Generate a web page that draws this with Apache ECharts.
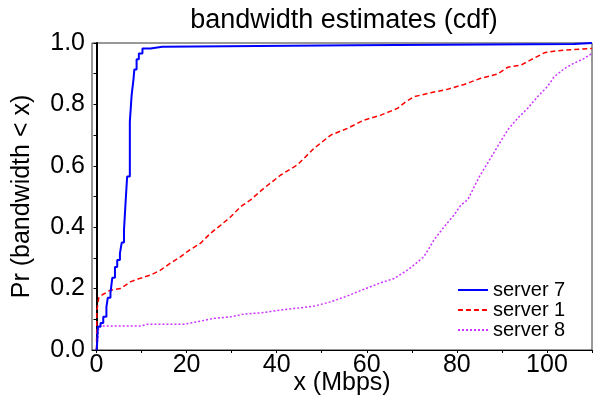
<!DOCTYPE html>
<html>
<head>
<meta charset="utf-8">
<script src="https://cdn.jsdelivr.net/npm/echarts@6/dist/echarts.min.js"></script>
<style>
  html, body { margin: 0; padding: 0; background: #fff; }
  #chart { width: 594px; height: 401px; }
</style>
</head>
<body>
<div id="chart"></div>
<script>
// values (x in Mbps, y = cdf)
var s7X = [0, 0.1, 0.3, 0.9, 1.5, 2.2, 2.5, 3.1, 3.5, 4.1, 4.6, 5.2, 5.6, 6.1, 6.4, 6.8, 7.4, 7.8, 8.2, 8.4, 8.9, 9.4, 10.2, 12, 14.6, 57, 106, 110];
var s7Y = [0, 0.01, 0.076, 0.088, 0.108, 0.14, 0.17, 0.185, 0.235, 0.27, 0.293, 0.315, 0.35, 0.39, 0.467, 0.565, 0.744, 0.83, 0.88, 0.914, 0.947, 0.966, 0.982, 0.988, 0.993, 0.997, 1.0, 1.0];

var s1X = [0, 0.1, 0.5, 1.3, 3.1, 5.3, 7.5, 9.8, 12, 14.2, 16.4, 18.7, 20.1, 23.1, 25.3, 27.6, 29.8, 32, 34.2, 37, 40.9, 44.6, 48.3, 52, 55.7, 59.4, 63.1, 66.8, 68.7, 70.5, 74.2, 77.9, 81.6, 85.3, 89, 91.3, 94.2, 96.4, 99.4, 102.4, 106, 110];
var s1Y = [0, 0.13, 0.17, 0.18, 0.195, 0.2, 0.222, 0.234, 0.244, 0.26, 0.283, 0.304, 0.32, 0.348, 0.38, 0.407, 0.434, 0.467, 0.489, 0.525, 0.57, 0.603, 0.657, 0.7, 0.722, 0.749, 0.765, 0.787, 0.809, 0.825, 0.838, 0.849, 0.865, 0.885, 0.899, 0.921, 0.928, 0.945, 0.968, 0.975, 0.979, 0.982];

var s8X = [0, 0.3, 0.5, 9.8, 11.3, 19.4, 22.4, 26, 29.8, 32.7, 36.4, 40.9, 48.3, 52, 55.7, 59.4, 63.1, 66.1, 69, 70.5, 72.7, 74.9, 77.2, 79.4, 80.9, 82.4, 85, 86.8, 89, 91.3, 93.5, 95.7, 97.9, 100.1, 101.6, 103.9, 106, 108.3, 110];
var s8Y = [0, 0.04, 0.078, 0.078, 0.084, 0.084, 0.092, 0.103, 0.108, 0.117, 0.121, 0.13, 0.143, 0.157, 0.176, 0.198, 0.219, 0.233, 0.26, 0.277, 0.304, 0.358, 0.402, 0.44, 0.472, 0.489, 0.565, 0.608, 0.662, 0.717, 0.755, 0.787, 0.825, 0.858, 0.89, 0.917, 0.934, 0.95, 0.966];

var xTicks = [0, 20, 40, 60, 80, 100];
var xMinorTicks = [0, 10, 20, 30, 40, 50, 60, 70, 80, 90, 100, 110];
var seriesNames = ['server 7', 'server 1', 'server 8'];

function pairs(xs, ys) {
  var out = [];
  for (var i = 0; i < xs.length; i++) out.push([xs[i], ys[i]]);
  return out;
}

var font = 'Liberation Sans, Arial, sans-serif';
var chart = echarts.init(document.getElementById('chart'));
var option = {
  animation: false,
  title: {
    text: 'bandwidth estimates (cdf)',
    left: 339,
    top: 2,
    textAlign: 'center',
    textStyle: { fontFamily: font, fontSize: 27, fontWeight: 'normal', color: '#000' }
  },
  grid: {
    left: 92, right: 2, top: 43, bottom: 51,
    outerBoundsMode: 'none',
    containLabel: false,
    show: true, borderColor: '#333', borderWidth: 1, backgroundColor: 'transparent'
  },
  legend: {
    orient: 'vertical',
    left: 452,
    top: 275,
    itemWidth: 30,
    itemHeight: 10,
    itemGap: 0,
    itemStyle: { opacity: 0 },
    textStyle: { fontFamily: font, fontSize: 20, lineHeight: 20, color: '#000' },
    data: seriesNames
  },
  xAxis: {
    type: 'value',
    min: -1,
    max: 110,
    name: 'x (Mbps)',
    nameLocation: 'middle',
    nameGap: 21,
    nameMoveOverlap: false,
    nameTextStyle: { fontFamily: font, fontSize: 25, color: '#000' },
    splitLine: { show: false },
    axisLine: { lineStyle: { color: '#000', width: 1 } },
    axisTick: { show: true, length: 3, customValues: xMinorTicks, lineStyle: { color: '#000' } },
    axisLabel: { customValues: xTicks, fontFamily: font, fontSize: 25, color: '#000', margin: 3 }
  },
  yAxis: {
    type: 'value',
    min: 0,
    max: 1,
    interval: 0.2,
    name: 'Pr (bandwidth < x)',
    nameLocation: 'middle',
    nameGap: 57,
    nameTextStyle: { fontFamily: font, fontSize: 25, color: '#000' },
    splitLine: { show: false },
    axisLine: { show: true, lineStyle: { color: '#000', width: 2 } },
    axisTick: { show: true, length: 3, lineStyle: { color: '#000' } },
    minorTick: { show: true, splitNumber: 2, length: 3, lineStyle: { color: '#000' } },
    axisLabel: {
      fontFamily: font, fontSize: 25, color: '#000', margin: 7,
      formatter: function (v) { return v.toFixed(1); }
    }
  },
  series: [
    {
      name: seriesNames[0], type: 'line', step: 'end', symbol: 'none',
      lineStyle: { color: '#0000ff', width: 2 },
      itemStyle: { color: '#0000ff' },
      data: pairs(s7X, s7Y), z: 3
    },
    {
      name: seriesNames[1], type: 'line', symbol: 'none',
      lineStyle: { color: '#ff0000', width: 1.5, type: [5, 3] },
      itemStyle: { color: '#ff0000' },
      data: pairs(s1X, s1Y), z: 2
    },
    {
      name: seriesNames[2], type: 'line', symbol: 'none',
      lineStyle: { color: '#cc33ff', width: 1.5, type: [2, 2] },
      itemStyle: { color: '#cc33ff' },
      data: pairs(s8X, s8Y), z: 1
    }
  ]
};
chart.setOption(option);
</script>
</body>
</html>
